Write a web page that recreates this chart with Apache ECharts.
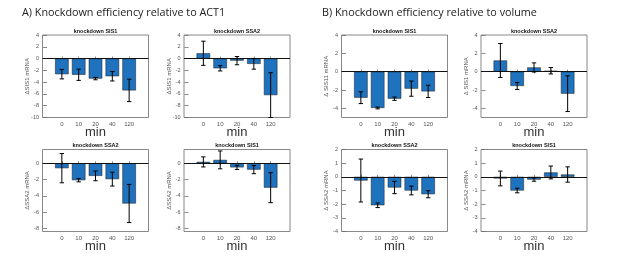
<!DOCTYPE html>
<html><head><meta charset="utf-8">
<script src="https://cdn.jsdelivr.net/npm/echarts@6/dist/echarts.min.js"></script>
<style>html,body{margin:0;padding:0;background:#fff}#c{width:617px;height:258px}</style>
</head><body><div id="c"></div>
<script>
// ---- data ----
const categories = ['0', '10', '20', '40', '120'];
const headlineA = 'A) Knockdown efficiency relative to ACT1';
const headlineB = 'B) Knockdown efficiency relative to volume';
const xAxisName = 'min';

// A) relative to ACT1
const aSIS1_kdSIS1 = [-2.65, -2.75, -3.4, -3.0, -5.4];
const aSIS1_kdSIS1_err = [0.8, 0.95, 0.2, 0.8, 1.9];
const aSIS1_kdSSA2 = [0.9, -1.65, -0.35, -0.9, -6.2];
const aSIS1_kdSSA2_err = [2.05, 0.45, 0.7, 0.9, 3.8];
const aSSA2_kdSSA2 = [-0.6, -2.08, -1.55, -1.95, -4.95];
const aSSA2_kdSSA2_err = [1.8, 0.2, 0.6, 0.85, 2.35];
const aSSA2_kdSIS1 = [0.17, 0.42, -0.5, -0.78, -3.0];
const aSSA2_kdSIS1_err = [0.62, 1.1, 0.25, 0.5, 1.85];
// B) relative to volume
const bSIS1_kdSIS1 = [-2.84, -3.96, -2.95, -1.85, -2.15];
const bSIS1_kdSIS1_err = [0.64, 0.1, 0.18, 0.83, 0.67];
const bSIS1_kdSSA2 = [1.22, -1.56, 0.46, 0.1, -2.4];
const bSIS1_kdSSA2_err = [1.85, 0.38, 0.5, 0.35, 1.95];
const bSSA2_kdSSA2 = [-0.27, -2.08, -0.78, -1.0, -1.27];
const bSSA2_kdSSA2_err = [1.57, 0.17, 0.45, 0.32, 0.26];
const bSSA2_kdSIS1 = [-0.12, -1.0, -0.2, 0.32, 0.17];
const bSSA2_kdSIS1_err = [0.54, 0.17, 0.12, 0.47, 0.56];

// y ticks per panel
const ticksA_top = [-10, -8, -6, -4, -2, 0, 2, 4];
const ticksA_bot = [-8, -6, -4, -2, 0];
const ticksB_top = [-4, -2, 0, 2, 4];
const ticksB_bot = [-4, -3, -2, -1, 0, 1, 2];

const panels = [
  {title: 'knockdown SIS1', yName: '\u0394SIS1 mRNA', vals: aSIS1_kdSIS1, err: aSIS1_kdSIS1_err, ymin: -10, ymax: 4, ticks: ticksA_top},
  {title: 'knockdown SSA2', yName: '\u0394SIS1 mRNA', vals: aSIS1_kdSSA2, err: aSIS1_kdSSA2_err, ymin: -10, ymax: 4, ticks: ticksA_top},
  {title: 'knockdown SSA2', yName: '\u0394SSA2 mRNA', vals: aSSA2_kdSSA2, err: aSSA2_kdSSA2_err, ymin: -8.4, ymax: 1.7, ticks: ticksA_bot},
  {title: 'knockdown SIS1', yName: '\u0394SSA2 mRNA', vals: aSSA2_kdSIS1, err: aSSA2_kdSIS1_err, ymin: -8.4, ymax: 1.7, ticks: ticksA_bot},
  {title: 'knockdown SIS1', yName: '\u0394 SIS11 mRNA', vals: bSIS1_kdSIS1, err: bSIS1_kdSIS1_err, ymin: -5, ymax: 4, ticks: ticksB_top},
  {title: 'knockdown SSA2', yName: '\u0394 SIS1 mRNA', vals: bSIS1_kdSSA2, err: bSIS1_kdSSA2_err, ymin: -5, ymax: 4, ticks: ticksB_top},
  {title: 'knockdown SSA2', yName: '\u0394 SSA2 mRNA', vals: bSSA2_kdSSA2, err: bSSA2_kdSSA2_err, ymin: -4, ymax: 2, ticks: ticksB_bot},
  {title: 'knockdown SIS1', yName: '\u0394 SSA2 mRNA', vals: bSSA2_kdSIS1, err: bSSA2_kdSIS1_err, ymin: -4, ymax: 2, ticks: ticksB_bot}
];

// ---- layout (styles) ----
const colLeft = [42.5, 184, 42.5, 184, 341.5, 481, 341.5, 481];
const rowTop = [35, 35, 149.5, 149.5, 35, 35, 149.5, 149.5];
const rowH = [82.5, 82.5, 82, 82, 82.5, 82.5, 82, 82];
const W = 106;
const boxColor = '#6a6a6a';
const labelColor = '#555';
const FONT = 'Liberation Sans, Arial, Helvetica, sans-serif';

const chart = echarts.init(document.getElementById('c'), null, {renderer: 'canvas'});
const grid = [], xAxis = [], yAxis = [], series = [], graphic = [];
const xPos = categories.map((c, i) => i + 1);

panels.forEach((p, i) => {
  grid.push({left: colLeft[i], top: rowTop[i], width: W, height: rowH[i], show: true, borderColor: boxColor, borderWidth: 0.8, backgroundColor: '#fff'});
  const tickStyle = {show: true, inside: true, length: 2, customValues: xPos, lineStyle: {color: boxColor, width: 0.8}};
  xAxis.push({
    gridIndex: i, type: 'value', min: -0.15, max: 6.15, position: 'bottom',
    axisLine: {show: false}, splitLine: {show: false},
    axisTick: tickStyle,
    axisLabel: {customValues: xPos, formatter: v => categories[Math.round(v) - 1] || '', fontSize: 6, color: labelColor, margin: 4, fontFamily: FONT},
    name: xAxisName, nameLocation: 'middle', nameGap: 8, nameMoveOverlap: false,
    nameTextStyle: {fontSize: 13, color: '#333', fontFamily: FONT, verticalAlign: 'top'}
  });
  xAxis.push({
    gridIndex: i, type: 'value', min: -0.15, max: 6.15, position: 'top',
    axisLine: {show: false}, splitLine: {show: false},
    axisTick: tickStyle, axisLabel: {show: false}
  });
  const yTick = {show: true, inside: true, length: 2, customValues: p.ticks, lineStyle: {color: boxColor, width: 0.8}};
  yAxis.push({
    gridIndex: i, type: 'value', min: p.ymin, max: p.ymax, position: 'left',
    axisLine: {show: false}, splitLine: {show: false},
    axisTick: yTick,
    axisLabel: {customValues: p.ticks, fontSize: 5.5, color: labelColor, margin: 3.5, fontFamily: FONT},
    name: p.yName, nameLocation: 'middle', nameGap: 12, nameMoveOverlap: false,
    nameTextStyle: {fontSize: 6, color: labelColor, fontFamily: FONT}
  });
  yAxis.push({
    gridIndex: i, type: 'value', min: p.ymin, max: p.ymax, position: 'right',
    axisLine: {show: false}, splitLine: {show: false},
    axisTick: yTick, axisLabel: {show: false}
  });
  series.push({
    type: 'bar', xAxisIndex: 2 * i, yAxisIndex: 2 * i,
    data: p.vals.map((v, k) => [xPos[k], v]),
    barWidth: 13.5,
    itemStyle: {color: '#1f72bd', borderColor: '#1a1a1a', borderWidth: 0.5},
    markLine: {silent: true, symbol: 'none', animation: false, label: {show: false},
      lineStyle: {color: '#111', width: 1, type: 'solid'}, data: [{yAxis: 0}]},
    animation: false, z: 2
  });
  series.push({
    type: 'custom', xAxisIndex: 2 * i, yAxisIndex: 2 * i,
    data: p.vals.map((v, k) => [xPos[k], v, p.err[k]]),
    encode: {x: 0, y: 1}, z: 5, animation: false, clip: false,
    renderItem: (params, api) => {
      const x = api.value(0), y = api.value(1), e = api.value(2);
      const t = api.coord([x, y + e]), b = api.coord([x, y - e]);
      const c = 2.2;
      const st = {stroke: '#000', lineWidth: 1};
      return {type: 'group', children: [
        {type: 'line', shape: {x1: t[0], y1: t[1], x2: b[0], y2: b[1]}, style: st},
        {type: 'line', shape: {x1: t[0] - c, y1: t[1], x2: t[0] + c, y2: t[1]}, style: st},
        {type: 'line', shape: {x1: b[0] - c, y1: b[1], x2: b[0] + c, y2: b[1]}, style: st}
      ]};
    }
  });
  graphic.push({type: 'text', x: colLeft[i] + W / 2, y: rowTop[i] - 4,
    style: {text: p.title, fontSize: 5.5, fontWeight: 'bold', fontFamily: FONT, fill: '#111', textAlign: 'center', textVerticalAlign: 'middle'}});
});

graphic.push({type: 'text', x: 22, y: 13, style: {text: headlineA, fontSize: 10.8, fontFamily: 'Open Sans, sans-serif', fill: '#222', textAlign: 'left', textVerticalAlign: 'middle'}});
graphic.push({type: 'text', x: 322, y: 13, style: {text: headlineB, fontSize: 10.8, fontFamily: 'Open Sans, sans-serif', fill: '#222', textAlign: 'left', textVerticalAlign: 'middle'}});

chart.setOption({animation: false, grid, xAxis, yAxis, series, graphic});
</script></body></html>
